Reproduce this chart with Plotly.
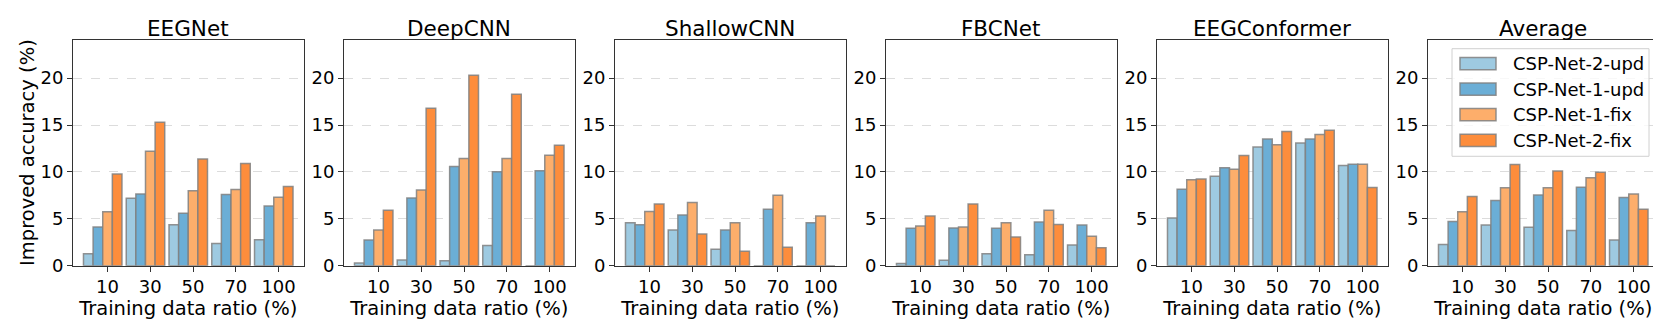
import plotly.graph_objects as go
from plotly.subplots import make_subplots

# Improved accuracy (%) per model, one list per series, one value per training ratio
ratios = ["10", "30", "50", "70", "100"]
models = ["EEGNet", "DeepCNN", "ShallowCNN", "FBCNet", "EEGConformer", "Average"]
series_names = ["CSP-Net-2-upd", "CSP-Net-1-upd", "CSP-Net-1-fix", "CSP-Net-2-fix"]
series_colors = ["#9ecae1", "#6baed6", "#fdae6b", "#fd8d3c"]

eegnet = [
    [1.28, 7.21, 4.38, 2.38, 2.79],
    [4.14, 7.66, 5.59, 7.59, 6.38],
    [5.76, 12.2, 8.00, 8.14, 7.31],
    [9.79, 15.31, 11.38, 10.90, 8.45],
]
deepcnn = [
    [0.31, 0.62, 0.55, 2.17, 0.0],
    [2.76, 7.24, 10.59, 10.03, 10.14],
    [3.83, 8.07, 11.45, 11.45, 11.79],
    [5.93, 16.79, 20.31, 18.28, 12.86],
]
shallowcnn = [
    [4.59, 3.83, 1.76, 0.0, 0.0],
    [4.38, 5.41, 3.83, 6.03, 4.59],
    [5.79, 6.76, 4.59, 7.52, 5.31],
    [6.59, 3.38, 1.55, 1.97, 0.0],
]
fbcnet = [
    [0.24, 0.59, 1.28, 1.17, 2.21],
    [4.00, 4.03, 4.00, 4.66, 4.34],
    [4.24, 4.14, 4.59, 5.93, 3.14],
    [5.31, 6.59, 3.07, 4.41, 1.93],
]
eegconformer = [
    [5.10, 9.55, 12.66, 13.10, 10.69],
    [8.17, 10.45, 13.52, 13.52, 10.83],
    [9.17, 10.28, 12.90, 14.00, 10.83],
    [9.24, 11.76, 14.31, 14.45, 8.34],
]
average = [
    [2.28, 4.34, 4.10, 3.76, 2.76],
    [4.72, 6.97, 7.55, 8.38, 7.28],
    [5.76, 8.31, 8.31, 9.38, 7.66],
    [7.38, 10.79, 10.10, 9.97, 6.03],
]
panel_data = [eegnet, deepcnn, shallowcnn, fbcnet, eegconformer, average]

W, H = 1661, 325
BAR_W = 0.225
FONT = "DejaVu Sans, Arial, sans-serif"
EDGE = "rgba(128,128,128,0.85)"


def px(x, y):
    """pixel position -> paper coords"""
    return x / W, 1 - y / H


fig = make_subplots(rows=1, cols=6)

group_x = list(range(len(ratios)))
for p, data in enumerate(panel_data):
    for s, name in enumerate(series_names):
        fig.add_trace(
            go.Bar(
                x=group_x,
                y=data[s],
                name=name,
                showlegend=False,
                marker=dict(color=series_colors[s], line=dict(color=EDGE, width=1.5)),
            ),
            row=1,
            col=p + 1,
        )

# panel placement in pixels -> paper fractions
plot_top, plot_bottom = 33, 266
y_dom = [1 - plot_bottom / H, 1 - plot_top / H]
annotations = []
shapes = []
for p in range(6):
    left = 65 + 271 * p
    right = left + 230.5
    suffix = "" if p == 0 else str(p + 1)
    fig.layout["xaxis" + suffix].domain = [left / W, right / W]
    fig.layout["yaxis" + suffix].domain = y_dom
    annotations.append(
        dict(
            text=models[p],
            x=(left + right) / 2 / W,
            y=1 - 21.2 / H,
            xref="paper",
            yref="paper",
            xanchor="center",
            yanchor="middle",
            showarrow=False,
            font=dict(size=21.5, color="black", family=FONT),
        )
    )

annotations.append(
    dict(
        text="Improved accuracy (%)",
        x=20 / W,
        y=(1 - plot_bottom / H + 1 - plot_top / H) / 2,
        xref="paper",
        yref="paper",
        xanchor="center",
        yanchor="middle",
        textangle=-90,
        showarrow=False,
        font=dict(size=19.5, color="black", family=FONT),
    )
)

# legend box drawn by hand so the swatches are wide like matplotlib's
x0, y0 = px(1444, 42)
x1, y1 = px(1641, 153)
shapes.append(dict(type="rect", xref="paper", yref="paper", x0=x0, y0=y1, x1=x1, y1=y0,
                   fillcolor="rgba(255,255,255,0.8)", line=dict(color="#d0d0d0", width=1), layer="above"))
for s, name in enumerate(series_names):
    cy = 57.3 + 26.4 * s
    sx0, sy0 = px(1452, cy - 6.3)
    sx1, sy1 = px(1488, cy + 6.3)
    shapes.append(dict(type="rect", xref="paper", yref="paper", x0=sx0, y0=sy1, x1=sx1, y1=sy0,
                       fillcolor=series_colors[s], line=dict(color=EDGE, width=1.5), layer="above"))
    tx, ty = px(1502.5, cy)
    annotations.append(dict(text=name, x=tx, y=ty, xref="paper", yref="paper", xanchor="left", yanchor="middle",
                            showarrow=False, font=dict(size=18, color="black", family=FONT)))

fig.update_xaxes(
    range=[-2 * BAR_W - 0.245, 4 + 2 * BAR_W + 0.245],
    tickvals=[g + BAR_W / 2 for g in group_x],
    ticktext=ratios,
    ticks="outside",
    ticklen=5,
    tickcolor="#333333",
    showline=True,
    linecolor="#333333",
    linewidth=1,
    mirror=True,
    showgrid=False,
    zeroline=False,
    tickfont=dict(size=18, color="black", family=FONT),
    title=dict(text="Training data ratio (%)", font=dict(size=19.5, color="black", family=FONT), standoff=2),
)
fig.update_yaxes(
    range=[0, 24.07],
    tickvals=[0, 5, 10, 15, 20],
    ticks="outside",
    ticklen=5,
    tickcolor="#333333",
    showline=True,
    linecolor="#333333",
    linewidth=1,
    mirror=True,
    showgrid=True,
    gridcolor="#dcdcdc",
    gridwidth=0.8,
    griddash="dash",
    zeroline=False,
    tickfont=dict(size=18, color="black", family=FONT),
)

fig.update_layout(
    width=W,
    height=H,
    margin=dict(l=0, r=0, t=0, b=0),
    paper_bgcolor="white",
    plot_bgcolor="white",
    barmode="group",
    bargap=0.1,
    bargroupgap=0,
    font=dict(family=FONT, color="black"),
    annotations=annotations,
    shapes=shapes,
    showlegend=False,
)

fig.write_html("out.html")
